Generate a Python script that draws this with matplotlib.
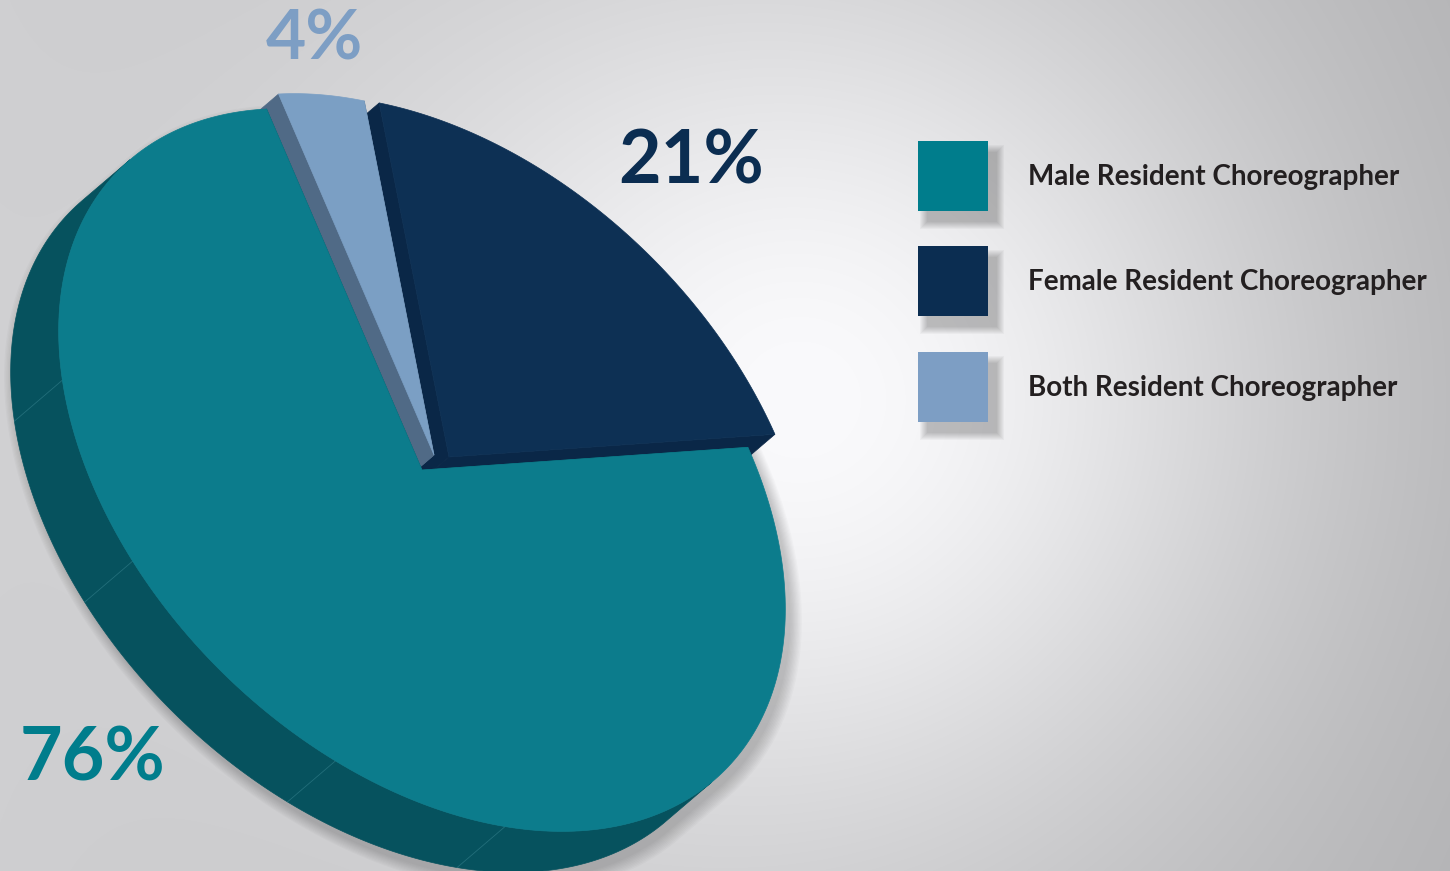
import numpy as np
import matplotlib
matplotlib.use("Agg")
import matplotlib.pyplot as plt
from matplotlib.patches import Polygon, Rectangle

plt.rcParams['font.family'] = ['Lato', 'DejaVu Sans']

# data
labels = ["Male Resident Choreographer", "Female Resident Choreographer",
          "Both Resident Choreographer"]
values = [76, 21, 4]
pct_labels = ["76%", "21%", "4%"]

top_colors = ["#0C7C8C", "#0D3054", "#7B9FC4"]
side_colors = ["#06525E", "#0A2747", "#506A86"]
legend_colors = ["#007D8C", "#0B2D51", "#7D9EC4"]

W, H = 1450, 871
fig = plt.figure(figsize=(W / 100, H / 100), dpi=100)
ax = fig.add_axes([0, 0, 1, 1])
ax.set_xlim(0, W)
ax.set_ylim(H, 0)
ax.axis("off")

# background: grey with a soft white glow behind the pie
yy, xx = np.mgrid[0:H, 0:W]
base = 206 - 28 * xx / W
glow = np.exp(-((xx - 800) ** 2 + ((yy - 400) * 1.05) ** 2) / 470 ** 2)
v = base + (250 - base) * glow
bg = np.dstack([v, v, v + 2]).clip(0, 255) / 255
ax.imshow(bg, extent=(0, W, H, 0), aspect="auto", zorder=0)

# tilted disc: screen = center + cos(t)*e1 + sin(t)*e2, extruded by depth
center = np.array([422.0, 470.0])
e1 = np.array([302.0, 301.0])
e2 = np.array([202.0, -200.0])
depth = np.array([-48.0, 41.0])
explode = [np.array([0.0, 0.0]), np.array([27.0, -13.0]), np.array([12.0, -15.0])]
start_angle = 60.0
draw_order = [1, 2, 0]   # female, both, male going counter-clockwise

A = np.column_stack([e1, e2])
w = np.linalg.solve(A, depth)


def rim(t, c):
    t = np.radians(np.atleast_1d(t))
    return c + np.outer(np.cos(t), e1) + np.outer(np.sin(t), e2)


def side_visible(t):
    t = np.radians(t)
    return np.cos(t) * w[0] + np.sin(t) * w[1] > 0


total = float(sum(values))
spans = {}
a = start_angle
for k in draw_order:
    spans[k] = (a, a + values[k] / total * 360)
    a = spans[k][1]

# soft shadow around the whole pie
ts = np.linspace(0, 360, 400)
sil = rim(ts, center) + np.outer(side_visible(ts), depth)
mid = center + depth / 2
for g in np.linspace(1, 0, 10):
    pts = mid + (sil - mid) * (1 + 0.03 * g) + np.array([5, 8])
    ax.add_patch(Polygon(pts, closed=True, facecolor="black", edgecolor="none",
                         alpha=0.018, zorder=1))

# sides first
for k in draw_order:
    c = center + explode[k]
    a0, a1 = spans[k]
    for edge in (a0, a1):
        p = rim(edge, c)[0]
        ax.add_patch(Polygon([c, p, p + depth, c + depth], closed=True,
                             facecolor=side_colors[k], edgecolor=side_colors[k],
                             lw=0.5, zorder=2))
    ts = np.linspace(a0, a1, 300)
    tv = ts[side_visible(ts)]
    if len(tv) > 1:
        arc = rim(tv, c)
        pts = np.vstack([arc, arc[::-1] + depth])
        ax.add_patch(Polygon(pts, closed=True, facecolor=side_colors[k],
                             edgecolor=side_colors[k], lw=0.5, zorder=2))

# faint seams on the male side wall
for t in [222, 251, 290, 317]:
    p = rim(t, center)[0]
    ax.plot([p[0], p[0] + depth[0]], [p[1], p[1] + depth[1]],
            color="#2E7A86", lw=0.6, alpha=0.7, zorder=3)

# top faces
for k in draw_order:
    c = center + explode[k]
    a0, a1 = spans[k]
    arc = rim(np.linspace(a0, a1, 300), c)
    ax.add_patch(Polygon(np.vstack([c, arc]), closed=True, facecolor=top_colors[k],
                         edgecolor=top_colors[k], lw=0.5, zorder=4))

# percentage labels
pct_pos = [(20, 780, 53), (618, 183, 53), (266, 59, 50)]
for k in range(3):
    x, y, fs = pct_pos[k]
    ax.text(x, y, pct_labels[k], color=legend_colors[k], fontsize=fs,
            fontweight="bold", ha="left", va="baseline", zorder=6)

# legend
box_x, box_size = 918, 70
box_tops = [141, 246, 352]
for k in range(3):
    y0 = box_tops[k]
    for g in np.linspace(1, 0, 8):
        pad = 7 * g
        ax.add_patch(Rectangle((box_x + 9 - pad, y0 + 11 - pad), box_size + 2 * pad,
                               box_size + 2 * pad, facecolor="black",
                               edgecolor="none", alpha=0.03, zorder=5))
    ax.add_patch(Rectangle((box_x, y0), box_size, box_size,
                           facecolor=legend_colors[k], edgecolor="none", zorder=6))
    ax.text(1028, y0 + 44, labels[k], color="#231F20", fontsize=20,
            fontweight="bold", ha="left", va="baseline", zorder=6)

fig.savefig("out.png", dpi=100)
